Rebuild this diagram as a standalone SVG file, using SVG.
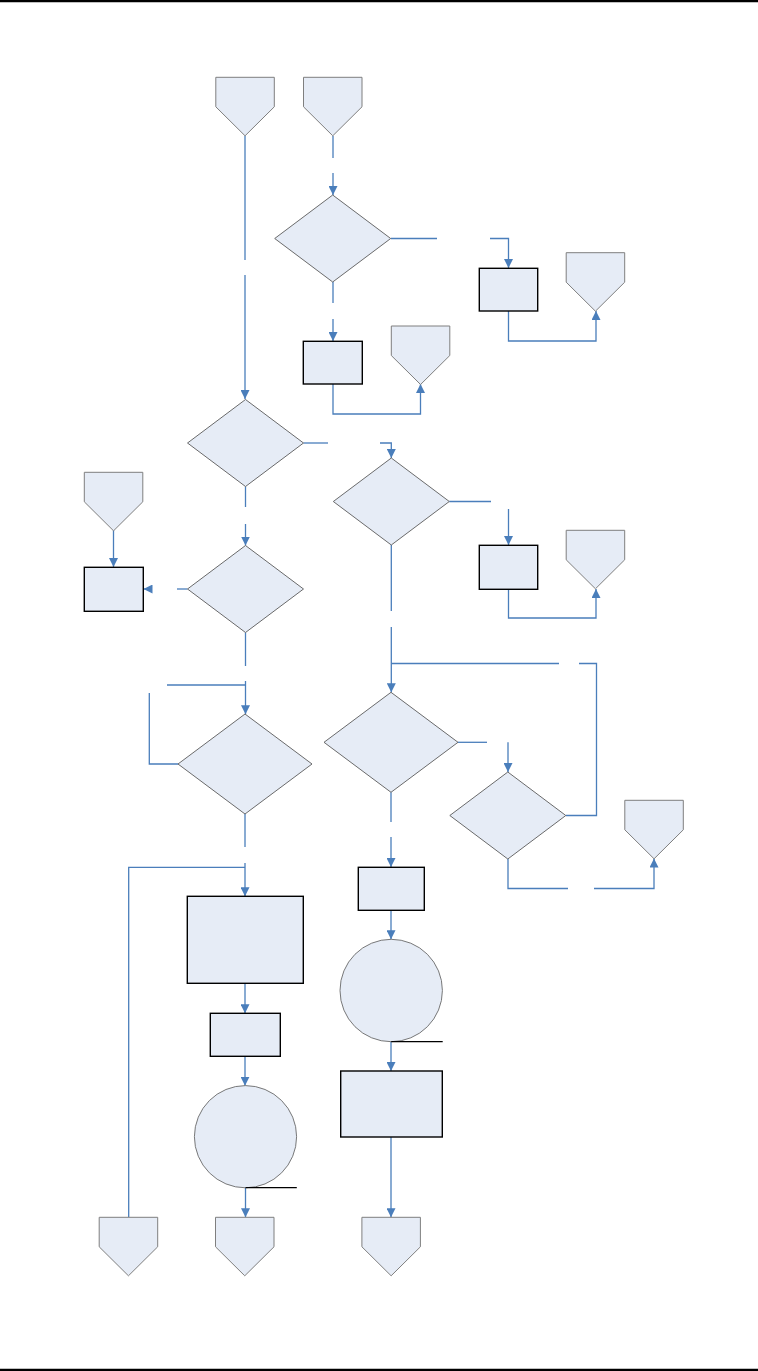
<svg xmlns="http://www.w3.org/2000/svg" xmlns:xlink="http://www.w3.org/1999/xlink" width="758" height="1371" viewBox="0 0 758 1371">
  <style>
    .pent { fill: #E6ECF6; stroke: #7f7f7f; stroke-width: 1; }
    .dia { fill: #E6ECF6; stroke: #5a5a5a; stroke-width: 0.9; }
    .box { fill: #E6ECF6; stroke: #000; stroke-width: 1.4; }
    .circ { fill: #E6ECF6; stroke: #6a6a6a; stroke-width: 0.9; }
    .conn { fill: none; stroke: #4A7EBB; stroke-width: 1.3; }
    .arr { marker-end: url(#ah); }
    .tail { fill: none; stroke: #000; stroke-width: 1.2; }
    .rule { stroke: #000; stroke-width: 2.2; }
  </style>
  <defs>
    <marker id="ah" markerUnits="userSpaceOnUse" viewBox="0 0 10 10" refX="10" refY="5" markerWidth="9" markerHeight="9" orient="auto">
      <path d="M0,0 L10,5 L0,10 z" fill="#4A7EBB"/>
    </marker>
    <polygon id="pentShape" class="pent" points="0,0 58.5,0 58.5,29.5 29.25,58.5 0,29.5"/>
    <polygon id="diaS" class="dia" points="-58,0 0,-43.5 58,0 0,43.5"/>
    <polygon id="diaL" class="dia" points="-67,0 0,-50 67,0 0,50"/>
  </defs>
  <rect x="0" y="0" width="758" height="1371" fill="#fff"/>
  <line class="rule" x1="0" y1="1.1" x2="758" y2="1.1"/>
  <line class="rule" x1="0" y1="1369.9" x2="758" y2="1369.9"/>

  <g id="connectors">
    <path class="conn" d="M245,136 V260"/>
    <path class="conn arr" d="M245,275 V399"/>
    <path class="conn" d="M333,136 V158"/>
    <path class="conn arr" d="M333,173 V195"/>
    <path class="conn" d="M391,238.5 H437"/>
    <path class="conn arr" d="M490,238.5 H508.5 V268"/>
    <path class="conn arr" d="M508.5,311 V341 H596 V311"/>
    <path class="conn" d="M333,282 V303"/>
    <path class="conn arr" d="M333,319 V341"/>
    <path class="conn arr" d="M333,384 V414 H420.5 V384"/>
    <path class="conn" d="M303.5,443 H328"/>
    <path class="conn arr" d="M380,443 H391.3 V458"/>
    <path class="conn" d="M449.3,501.5 H491"/>
    <path class="conn arr" d="M508.5,509 V545"/>
    <path class="conn arr" d="M508.5,589 V618 H596 V589"/>
    <path class="conn" d="M245.5,486.5 V507"/>
    <path class="conn arr" d="M245.5,524 V545.5"/>
    <path class="conn" d="M187.5,589 H177"/>
    <path class="conn arr" d="M152,589 H143.5"/>
    <path class="conn arr" d="M113.5,530 V567"/>
    <path class="conn" d="M391.3,545 V611"/>
    <path class="conn arr" d="M391.3,627 V692.3"/>
    <path class="conn" d="M391.3,663.5 H559"/>
    <path class="conn" d="M579,663.5 H596.5 V815.5 H566"/>
    <path class="conn" d="M458,742.3 H487"/>
    <path class="conn arr" d="M508,742.3 V772"/>
    <path class="conn" d="M508,859 V888.5 H568"/>
    <path class="conn arr" d="M594,888.5 H654 V858.5"/>
    <path class="conn" d="M391,792.3 V822"/>
    <path class="conn arr" d="M391,837 V867"/>
    <path class="conn arr" d="M391,910.3 V939.3"/>
    <path class="conn arr" d="M391,1042 V1071"/>
    <path class="conn arr" d="M391,1137 V1217.3"/>
    <path class="conn" d="M245.5,632.5 V666"/>
    <path class="conn arr" d="M245.5,681 V714.3"/>
    <path class="conn" d="M167,685 H245.5"/>
    <path class="conn" d="M178.3,764 H149.3 V693"/>
    <path class="conn" d="M245,814 V847"/>
    <path class="conn arr" d="M245,863 V896.3"/>
    <path class="conn" d="M245,867.3 H128.7 V1217.3"/>
    <path class="conn arr" d="M245,983.3 V1013.3"/>
    <path class="conn arr" d="M245,1056.3 V1085.7"/>
    <path class="conn arr" d="M245.5,1187.7 V1217.3"/>
  </g>

  <g id="p1"><use xlink:href="#pentShape" x="215.8" y="77.3"/></g>
  <g id="p2"><use xlink:href="#pentShape" x="303.5" y="77.3"/></g>
  <g id="p3"><use xlink:href="#pentShape" x="566.2" y="252.7"/></g>
  <g id="p4"><use xlink:href="#pentShape" x="391.3" y="326"/></g>
  <g id="p5"><use xlink:href="#pentShape" x="566.2" y="530.3"/></g>
  <g id="p6"><use xlink:href="#pentShape" x="84.3" y="472.3"/></g>
  <g id="p7"><use xlink:href="#pentShape" x="624.8" y="800.3"/></g>
  <g id="p8"><use xlink:href="#pentShape" x="99.2" y="1217.3"/></g>
  <g id="p9"><use xlink:href="#pentShape" x="215.5" y="1217.3"/></g>
  <g id="p10"><use xlink:href="#pentShape" x="361.9" y="1217.3"/></g>

  <g id="d1"><use xlink:href="#diaS" x="332.7" y="238.5"/></g>
  <g id="d2"><use xlink:href="#diaS" x="245.5" y="443"/></g>
  <g id="d3"><use xlink:href="#diaS" x="391.3" y="501.5"/></g>
  <g id="d4"><use xlink:href="#diaS" x="245.5" y="589"/></g>
  <g id="d5"><use xlink:href="#diaL" x="391" y="742.3"/></g>
  <g id="d6"><use xlink:href="#diaS" x="507.8" y="815.5"/></g>
  <g id="d7"><use xlink:href="#diaL" x="245" y="764"/></g>

  <g id="boxA"><rect class="box" x="479.3" y="268.3" width="58.4" height="42.7"/></g>
  <g id="boxB"><rect class="box" x="303.3" y="341.3" width="59" height="42.7"/></g>
  <g id="boxC"><rect class="box" x="479.3" y="545.3" width="58.4" height="44"/></g>
  <g id="boxD"><rect class="box" x="84.3" y="567.3" width="59" height="44"/></g>
  <g id="boxF"><rect class="box" x="358.3" y="867.3" width="66" height="43"/></g>
  <g id="boxG"><rect class="box" x="340.7" y="1071" width="101.6" height="66"/></g>
  <g id="boxH"><rect class="box" x="187.3" y="896.3" width="116" height="87"/></g>
  <g id="boxI"><rect class="box" x="210.3" y="1013.3" width="70" height="43"/></g>

  <g id="c1">
    <circle class="circ" cx="391.2" cy="990.5" r="51.2"/>
    <line class="tail" x1="391.2" y1="1041.7" x2="442.7" y2="1041.7"/>
  </g>
  <g id="c2">
    <circle class="circ" cx="245.5" cy="1136.7" r="51.1"/>
    <line class="tail" x1="245.5" y1="1187.7" x2="296.8" y2="1187.7"/>
  </g>
</svg>
